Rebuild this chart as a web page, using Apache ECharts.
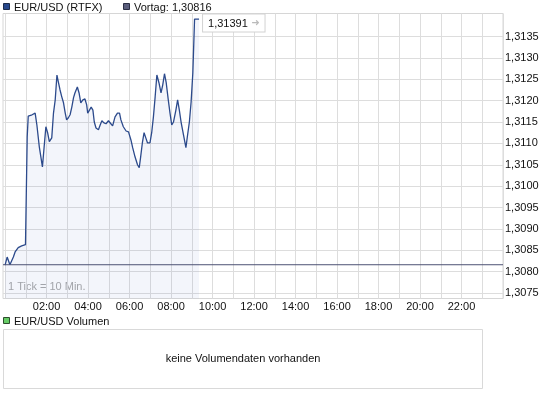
<!DOCTYPE html>
<html>
<head>
<meta charset="utf-8">
<script src="https://cdn.jsdelivr.net/npm/echarts@6/dist/echarts.min.js"></script>
<style>
html,body{margin:0;padding:0;background:#fff;}
#chart{width:545px;height:398px;}
</style>
</head>
<body>
<div id="chart"></div>
<script>
// ---- data ----
var seriesName = 'EUR/USD (RTFX)';
var volumeName = 'EUR/USD Volumen';
var noVolumeText = 'keine Volumendaten vorhanden';
var tickNote = '1 Tick = 10 Min.';
var prevClose = 1.30816;
// minutes after 00:00
var minutes = [0,6,14,24,29,38,48,59,63,64,67,78,87,92,99,108,113,118,123,128,135,140,145,150,154,159,164,169,174,178,183,188,193,198,202,209,214,219,225,231,236,239,244,249,254,258,263,270,275,280,286,292,299,306,311,318,325,331,335,342,350,357,364,369,376,383,388,392,397,402,407,412,419,424,429,434,439,445,451,456,461,466,472,477,482,487,494,499,504,509,516,523,527,533,538,543,548,561];
var prices = [1.30815,1.30834,1.30816,1.30834,1.30846,1.30856,1.30860,1.30863,1.30863,1.31115,1.31164,1.31167,1.31171,1.31143,1.31092,1.31045,1.31092,1.31139,1.31125,1.31104,1.31113,1.31171,1.31202,1.31260,1.31244,1.31225,1.31209,1.31195,1.31171,1.31155,1.31160,1.31167,1.31185,1.31207,1.31218,1.31232,1.31218,1.31195,1.31202,1.31204,1.31190,1.31171,1.31178,1.31185,1.31178,1.31150,1.31136,1.31132,1.31143,1.31153,1.31148,1.31146,1.31153,1.31146,1.31141,1.31162,1.31171,1.31171,1.31155,1.31139,1.31129,1.31127,1.31108,1.31090,1.31068,1.31050,1.31043,1.31068,1.31101,1.31125,1.31113,1.31101,1.31101,1.31125,1.31162,1.31209,1.31260,1.31242,1.31218,1.31237,1.31263,1.31242,1.31202,1.31171,1.31143,1.31150,1.31178,1.31202,1.31178,1.31150,1.31120,1.31090,1.31115,1.31150,1.31197,1.31265,1.31391,1.31391];
var yTicks = [1.3075,1.3080,1.3085,1.3090,1.3095,1.3100,1.3105,1.3110,1.3115,1.3120,1.3125,1.3130,1.3135];
var xGridHours = [0,1,2,3,4,5,6,7,8,9,10,11,12,13,14,15,16,17,18,19,20,21,22,23,24];
var xLabelHours = [2,4,6,8,10,12,14,16,18,20,22];
var xMin = -0.1, xMax = 24;

// ---- build ----
var points = minutes.map(function(m,i){ return [m/60, prices[i]]; });
var last = points[points.length-1];
var prevLine = [[xMin, prevClose],[xMax, prevClose]];
function fmtPrice(v,d){ return v.toFixed(d).replace('.',','); }
function fmtHour(h){ return (h<10?'0':'')+h+':00'; }

var FONT = '"Liberation Sans", Arial, sans-serif';
var chart = echarts.init(document.getElementById('chart'), null, {renderer:'canvas'});
chart.setOption({
  animation:false,
  backgroundColor:'#ffffff',
  grid:{left:3,right:42,top:13.5,bottom:99.5,show:true,borderColor:'#d6d6d6',borderWidth:1,backgroundColor:'transparent'},
  xAxis:{
    type:'value',min:xMin,max:xMax,
    axisLine:{show:false},
    axisTick:{show:false,customValues:xGridHours},
    splitLine:{show:true,lineStyle:{color:'#dddddd',width:1}},
    axisLabel:{customValues:xLabelHours,formatter:function(v){return fmtHour(Math.round(v));},
      color:'#111',fontFamily:FONT,fontSize:11,margin:3}
  },
  yAxis:{
    type:'value',position:'right',min:1.30737,max:1.31404,scale:true,
    axisLine:{show:false},
    axisTick:{show:false,customValues:yTicks},
    splitLine:{show:true,lineStyle:{color:'#dddddd',width:1}},
    axisLabel:{customValues:yTicks,formatter:function(v){return fmtPrice(v,4);},
      color:'#111',fontFamily:FONT,fontSize:11,margin:2}
  },
  series:[{
    name:seriesName,type:'line',data:points,showSymbol:false,symbol:'none',z:2,
    lineStyle:{color:'#2c4a8c',width:1.3},
    areaStyle:{color:'rgba(51,85,187,0.085)',origin:'start'},
    markPoint:{symbol:'circle',symbolSize:0,
      data:[{coord:last}],
      label:{show:true,position:'right',distance:4,offset:[0,4],
        formatter:'{v|'+fmtPrice(last[1],5)+'} {a|➜}',
        backgroundColor:'#ffffff',borderColor:'#d2d2d2',borderWidth:1,padding:[3,5,2,5],
        rich:{v:{color:'#111',fontFamily:FONT,fontSize:11},a:{color:'#bbbbbb',fontFamily:'DejaVu Sans',fontSize:10}}}
    }
  },{
    name:'Vortag',type:'line',data:prevLine,showSymbol:false,symbol:'none',silent:true,z:3,
    lineStyle:{color:'#4d5173',width:1}
  }],
  graphic:[
    {type:'rect',shape:{x:3.5,y:3.5,width:6,height:6},style:{fill:'#27488c',stroke:'#1c2b4a',lineWidth:1}},
    {type:'text',x:14,y:8,style:{text:seriesName,fill:'#111',font:'11px '+FONT,textVerticalAlign:'middle'}},
    {type:'rect',shape:{x:123.5,y:3.5,width:6,height:6},style:{fill:'#5a5e7c',stroke:'#2b2e44',lineWidth:1}},
    {type:'text',x:134,y:8,style:{text:'Vortag: '+fmtPrice(prevClose,5),fill:'#111',font:'11px '+FONT,textVerticalAlign:'middle'}},
    {type:'text',x:8,y:287,style:{text:tickNote,fill:'#a9a9a9',font:'11px '+FONT,textVerticalAlign:'middle'}},
    {type:'rect',shape:{x:3.5,y:317.5,width:6,height:6},style:{fill:'#66cc66',stroke:'#2d4d2d',lineWidth:1}},
    {type:'text',x:14,y:321.5,style:{text:volumeName,fill:'#111',font:'11px '+FONT,textVerticalAlign:'middle'}},
    {type:'rect',shape:{x:3.5,y:329.5,width:479,height:59},style:{fill:'#fff',stroke:'#d9d9d9',lineWidth:1}},
    {type:'text',x:243,y:359,style:{text:noVolumeText,fill:'#111',font:'11px '+FONT,textAlign:'center',textVerticalAlign:'middle'}}
  ]
});
</script>
</body>
</html>
